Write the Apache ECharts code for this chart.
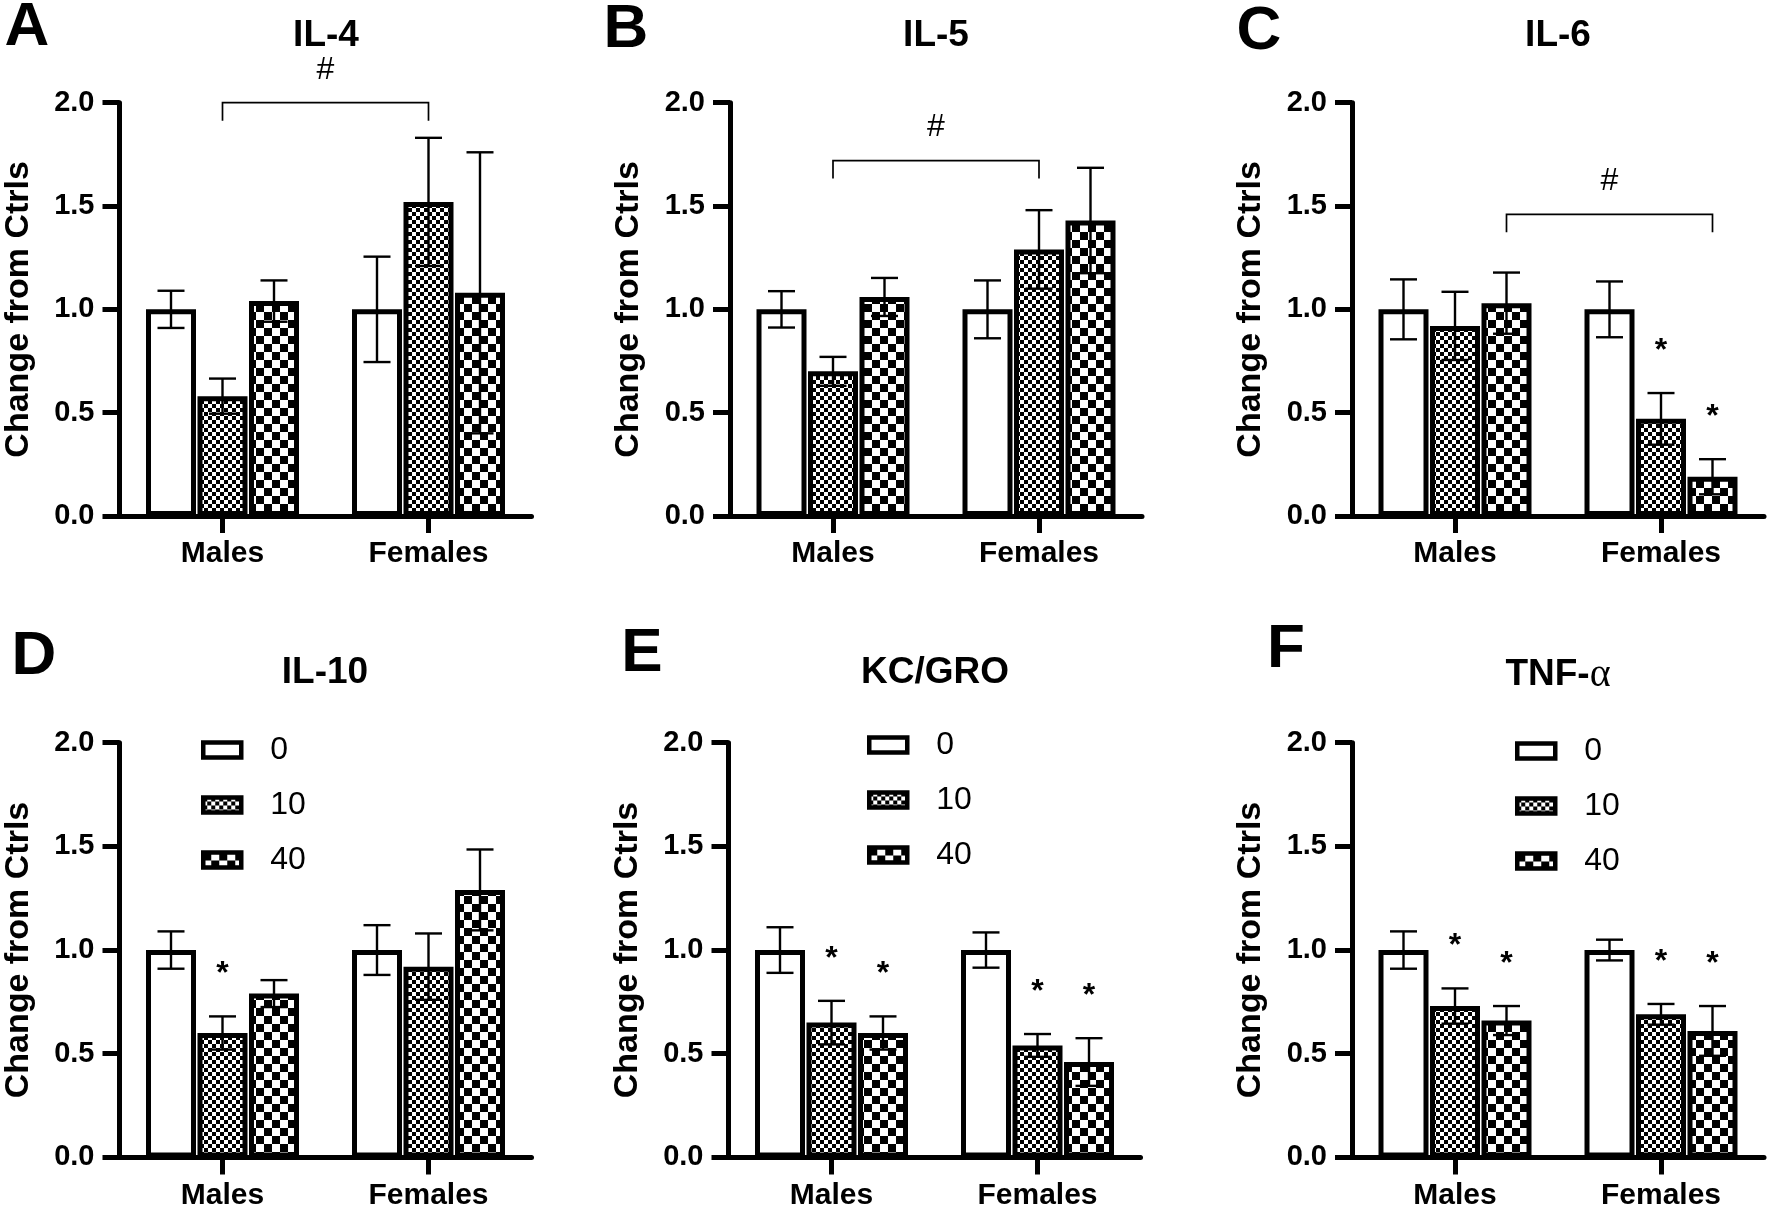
<!DOCTYPE html>
<html>
<head>
<meta charset="utf-8">
<script src="https://cdn.jsdelivr.net/npm/echarts@6/dist/echarts.min.js"></script>
<style>
html,body{margin:0;padding:0;background:#fff;}
#chart{width:1770px;height:1211px;}
</style>
</head>
<body>
<div id="chart"></div>
<script>
// ---------------- DATA ----------------
const CATEGORIES = ['Males', 'Females'];
const DOSES = ['0', '10', '40'];
const Y_TICK_LABELS = ['0.0', '0.5', '1.0', '1.5', '2.0'];
const PANEL_LETTERS = ['A', 'B', 'C', 'D', 'E', 'F'];
const PANEL_TITLES = ['IL-4', 'IL-5', 'IL-6', 'IL-10', 'KC/GRO', 'TNF-α'];
const Y_NAME = 'Change from Ctrls';

// means, one row per dose (0, 10, 40): [Males, Females]
const IL4_MEAN  = [[1.00, 1.00], [0.58, 1.52], [1.04, 1.08]];
const IL4_SEM   = [[0.09, 0.255], [0.085, 0.31], [0.10, 0.68]];
const IL4_STAR  = [[0, 0], [0, 0], [0, 0]];

const IL5_MEAN  = [[1.00, 1.00], [0.70, 1.29], [1.06, 1.43]];
const IL5_SEM   = [[0.088, 0.14], [0.07, 0.19], [0.092, 0.255]];
const IL5_STAR  = [[0, 0], [0, 0], [0, 0]];

const IL6_MEAN  = [[1.00, 1.00], [0.92, 0.47], [1.03, 0.19]];
const IL6_SEM   = [[0.145, 0.135], [0.165, 0.125], [0.148, 0.085]];
const IL6_STAR  = [[0, 0], [0, 1], [0, 1]];

const IL10_MEAN = [[1.00, 1.00], [0.60, 0.92], [0.79, 1.29]];
const IL10_SEM  = [[0.09, 0.12], [0.08, 0.16], [0.065, 0.195]];
const IL10_STAR = [[0, 0], [1, 0], [0, 0]];

const KC_MEAN   = [[1.00, 1.00], [0.65, 0.54], [0.60, 0.46]];
const KC_SEM    = [[0.11, 0.085], [0.105, 0.055], [0.08, 0.115]];
const KC_STAR   = [[0, 0], [1, 1], [1, 1]];

const TNF_MEAN  = [[1.00, 1.00], [0.73, 0.69], [0.66, 0.61]];
const TNF_SEM   = [[0.09, 0.05], [0.085, 0.05], [0.07, 0.12]];
const TNF_STAR  = [[0, 0], [1, 1], [1, 1]];

// brackets: [fromCategory, fromDose, toCategory, toDose, yLevel]
const IL4_BRACKET = [[0, 1, 1, 1, 2.00]];
const IL5_BRACKET = [[0, 1, 1, 1, 1.72]];
const IL6_BRACKET = [[0, 2, 1, 2, 1.46]];

const MEANS = [IL4_MEAN, IL5_MEAN, IL6_MEAN, IL10_MEAN, KC_MEAN, TNF_MEAN];
const SEMS = [IL4_SEM, IL5_SEM, IL6_SEM, IL10_SEM, KC_SEM, TNF_SEM];
const STARS = [IL4_STAR, IL5_STAR, IL6_STAR, IL10_STAR, KC_STAR, TNF_STAR];
const BRACKETS = [IL4_BRACKET, IL5_BRACKET, IL6_BRACKET, [], [], []];

// ---------------- LAYOUT / STYLE ----------------
const FONT = '"Liberation Sans", Arial, Helvetica, sans-serif';
const LAYOUT = [
  {left: 119.5, top: 102.7, width: 412, height: 413.3, letter: [27, 28],   title: [326, 36]},
  {left: 730,   top: 102.7, width: 412, height: 413.3, letter: [626, 30],  title: [936, 36]},
  {left: 1352,  top: 102.7, width: 412, height: 413.3, letter: [1259, 32], title: [1558, 36]},
  {left: 119.5, top: 742.7, width: 412, height: 414.7, letter: [34, 657],  title: [325, 673], legend: [201, 732]},
  {left: 728.5, top: 742.7, width: 412, height: 414.7, letter: [642, 654], title: [935, 673], legend: [867, 727]},
  {left: 1352,  top: 742.7, width: 412, height: 414.7, letter: [1286, 650], title: [1558, 675], legend: [1515, 733]}
];
const BAR_W = 50;
const BAR_GAP = 0.03;
const BAR_STEP = BAR_W * (1 + BAR_GAP);
const CAP = 27;

function checker(cell) {
  const c = document.createElement('canvas');
  c.width = cell * 2; c.height = cell * 2;
  const g = c.getContext('2d');
  g.fillStyle = '#fff'; g.fillRect(0, 0, cell * 2, cell * 2);
  g.fillStyle = '#000';
  g.fillRect(0, 0, cell, cell);
  g.fillRect(cell, cell, cell, cell);
  return {image: c, repeat: 'repeat'};
}
const FILLS = ['#ffffff', checker(4), checker(8)];

function errRender(params, api) {
  const cat = api.value(0), dose = api.value(1), mean = api.value(2), sem = api.value(3), star = api.value(4);
  const top = api.coord([cat, mean + sem]);
  const bot = api.coord([cat, mean - sem]);
  const x = top[0] + (dose - 1) * BAR_STEP;
  const ls = {stroke: '#000', lineWidth: 2.4};
  const ch = [
    {type: 'line', shape: {x1: x, y1: top[1], x2: x, y2: bot[1]}, style: ls},
    {type: 'line', shape: {x1: x - CAP / 2, y1: top[1], x2: x + CAP / 2, y2: top[1]}, style: ls},
    {type: 'line', shape: {x1: x - CAP / 2, y1: bot[1], x2: x + CAP / 2, y2: bot[1]}, style: ls}
  ];
  if (star) {
    ch.push({type: 'text', x: x, y: top[1] - 42, style: {text: '*', fill: '#000', font: 'bold 32px ' + FONT, textAlign: 'center', textVerticalAlign: 'middle'}});
  }
  return {type: 'group', children: ch};
}

function bracketRender(params, api) {
  const c1 = api.coord([api.value(0), api.value(4)]);
  const c2 = api.coord([api.value(2), api.value(4)]);
  const x1 = c1[0] + (api.value(1) - 1) * BAR_STEP;
  const x2 = c2[0] + (api.value(3) - 1) * BAR_STEP;
  const y = c1[1];
  return {type: 'group', children: [
    {type: 'polyline', shape: {points: [[x1, y + 18], [x1, y], [x2, y], [x2, y + 18]]}, style: {stroke: '#000', lineWidth: 1.7, fill: null}},
    {type: 'text', x: (x1 + x2) / 2, y: y - 33, style: {text: '#', fill: '#000', font: '32px ' + FONT, textAlign: 'center', textVerticalAlign: 'middle'}}
  ]};
}

const grid = [], xAxis = [], yAxis = [], series = [], graphic = [], legend = [];
LAYOUT.forEach((L, k) => {
  grid.push({left: L.left, top: L.top, width: L.width, height: L.height, containLabel: false});
  xAxis.push({
    type: 'category', gridIndex: k, data: CATEGORIES,
    axisLine: {show: true, lineStyle: {color: '#000', width: 5}},
    axisTick: {show: true, alignWithLabel: true, length: 17, lineStyle: {color: '#000', width: 5}},
    axisLabel: {color: '#000', fontFamily: FONT, fontWeight: 'bold', fontSize: 30, margin: 23},
    splitLine: {show: false}
  });
  yAxis.push({
    type: 'value', gridIndex: k, min: 0, max: 2, interval: 0.5,
    name: Y_NAME, nameLocation: 'middle', nameGap: 101, nameRotate: 90,
    nameTextStyle: {color: '#000', fontFamily: FONT, fontWeight: 'bold', fontSize: 34, verticalAlign: 'middle', align: 'center'},
    axisLine: {show: true, lineStyle: {color: '#000', width: 5}},
    axisTick: {show: true, length: 17, lineStyle: {color: '#000', width: 5}},
    axisLabel: {color: '#000', fontFamily: FONT, fontWeight: 'bold', fontSize: 29, margin: 25,
      formatter: v => Y_TICK_LABELS[Math.round(v / 0.5)]},
    splitLine: {show: false}
  });
  DOSES.forEach((d, j) => {
    series.push({
      type: 'bar', name: d, xAxisIndex: k, yAxisIndex: k,
      data: MEANS[k][j], barWidth: BAR_W, barGap: (BAR_GAP * 100) + '%',
      itemStyle: {color: FILLS[j], borderColor: '#000', borderWidth: 5},
      silent: true, animation: false, z: 2
    });
  });
  const errData = [];
  DOSES.forEach((d, j) => {
    CATEGORIES.forEach((c, i) => {
      errData.push([i, j, MEANS[k][j][i], SEMS[k][j][i], STARS[k][j][i]]);
    });
  });
  series.push({
    type: 'custom', xAxisIndex: k, yAxisIndex: k, renderItem: errRender,
    data: errData, encode: {x: 0, y: 2}, silent: true, animation: false, z: 5
  });
  if (BRACKETS[k].length) {
    series.push({
      type: 'custom', xAxisIndex: k, yAxisIndex: k, renderItem: bracketRender,
      data: BRACKETS[k], encode: {x: 0, y: 4}, silent: true, animation: false, z: 5
    });
  }
  graphic.push({type: 'text', x: L.letter[0], y: L.letter[1],
    style: {text: PANEL_LETTERS[k], fill: '#000', font: 'bold 62px ' + FONT, textAlign: 'center', textVerticalAlign: 'middle'}});
  if (PANEL_TITLES[k].indexOf('α') >= 0) {
    const parts = PANEL_TITLES[k].split('α');
    graphic.push({type: 'text', x: L.title[0], y: L.title[1],
      style: {text: '{a|' + parts[0] + '}{g|α}', textAlign: 'center', textVerticalAlign: 'middle',
        rich: {a: {fill: '#000', fontFamily: FONT, fontWeight: 'bold', fontSize: 37},
               g: {fill: '#000', fontFamily: '"Liberation Serif", "DejaVu Serif", serif', fontSize: 40}}}});
  } else {
    graphic.push({type: 'text', x: L.title[0], y: L.title[1],
      style: {text: PANEL_TITLES[k], fill: '#000', font: 'bold 37px ' + FONT, textAlign: 'center', textVerticalAlign: 'middle'}});
  }
  if (L.legend) {
    legend.push({
      orient: 'vertical', left: L.legend[0], top: L.legend[1], padding: 0, data: DOSES,
      icon: 'rect', itemWidth: 38, itemHeight: 15, itemGap: 19, selectedMode: false,
      itemStyle: {borderColor: '#000', borderWidth: 4.5},
      textStyle: {color: '#000', fontFamily: FONT, fontSize: 32, lineHeight: 36, padding: [0, 0, 0, 24]}
    });
  }
});

const chart = echarts.init(document.getElementById('chart'), null, {renderer: 'canvas'});
chart.setOption({
  backgroundColor: '#fff',
  animation: false,
  grid, xAxis, yAxis, series, legend, graphic
});
</script>
</body>
</html>
